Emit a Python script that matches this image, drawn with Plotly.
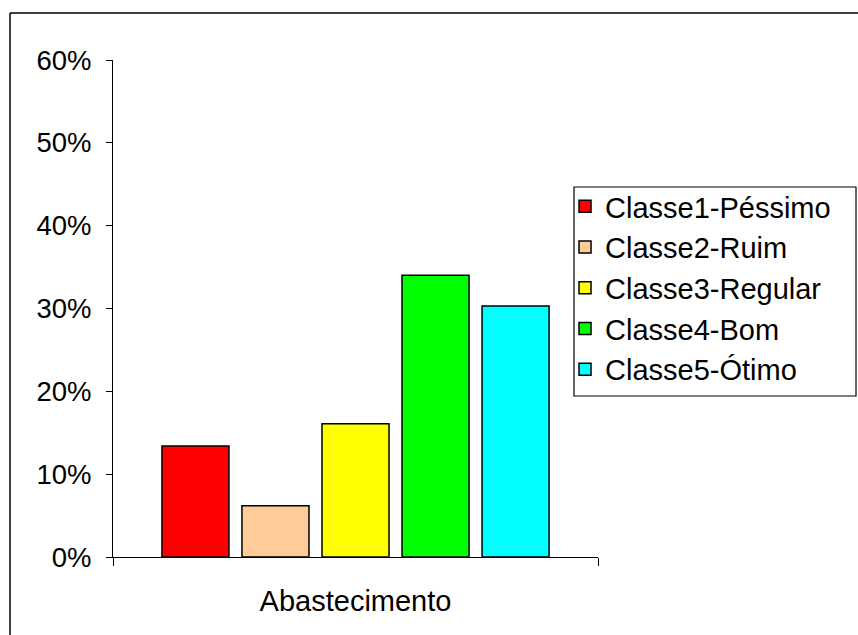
import plotly.graph_objects as go

# Survey result for water supply ("Abastecimento"), share of answers per class
category = ["Abastecimento"]
classes = ["Classe1-Péssimo", "Classe2-Ruim", "Classe3-Regular", "Classe4-Bom", "Classe5-Ótimo"]
shares = [0.134, 0.062, 0.161, 0.340, 0.303]
colors = ["#FF0000", "#FFCC99", "#FFFF00", "#00FF00", "#00FFFF"]
y_ticks = [0, 0.1, 0.2, 0.3, 0.4, 0.5, 0.6]

FONT = "Liberation Sans, Arial, sans-serif"

fig = go.Figure()
for name, val, col in zip(classes, shares, colors):
    fig.add_trace(go.Bar(
        x=category, y=[val], name=name, legendgroup=name,
        marker=dict(color=col, line=dict(color="black", width=1.5)),
    ))

fig.update_layout(
    width=858, height=635,
    margin=dict(l=113, r=260, t=60, b=78, autoexpand=False),
    paper_bgcolor="white", plot_bgcolor="white",
    barmode="group", bargap=0.175, bargroupgap=0.1625,
    font=dict(family=FONT, size=28, color="black"),
    showlegend=True,
    legend=dict(
        x=0.932, xanchor="left", y=0.7565, yanchor="top",
        borderwidth=0, bgcolor="rgba(0,0,0,0)",
        font=dict(family=FONT, size=29, color="black"),
        tracegroupgap=3, traceorder="normal",
    ),
    xaxis=dict(
        type="category", showline=True, linecolor="black", linewidth=1,
        ticks="outside", tickson="boundaries", ticklen=8, tickcolor="black",
        showgrid=False, tickfont=dict(size=29), ticklabelstandoff=18,
    ),
    yaxis=dict(
        range=[0, 0.6], tickvals=y_ticks, tickformat=".0%",
        showline=True, linecolor="black", linewidth=1,
        ticks="outside", ticklen=6, tickcolor="black",
        showgrid=False, zeroline=False, ticklabelstandoff=9,
        tickfont=dict(size=27.5),
    ),
    shapes=[
        # legend box
        dict(type="rect", xref="paper", yref="paper", layer="below",
             x0=(574 - 113) / 485, x1=(856 - 113) / 485,
             y0=(557 - 396) / 497, y1=(557 - 187) / 497,
             line=dict(color="black", width=1.2), fillcolor="white"),
        # outer chart frame (top and left edges)
        dict(type="line", xref="paper", yref="paper",
             x0=-0.2124, x1=1.6, y0=1.0946, y1=1.0946,
             line=dict(color="black", width=1.5)),
        dict(type="line", xref="paper", yref="paper",
             x0=-0.2124, x1=-0.2124, y0=1.0946, y1=-0.2,
             line=dict(color="black", width=1.5)),
    ],
)

fig.write_html("out.html")
